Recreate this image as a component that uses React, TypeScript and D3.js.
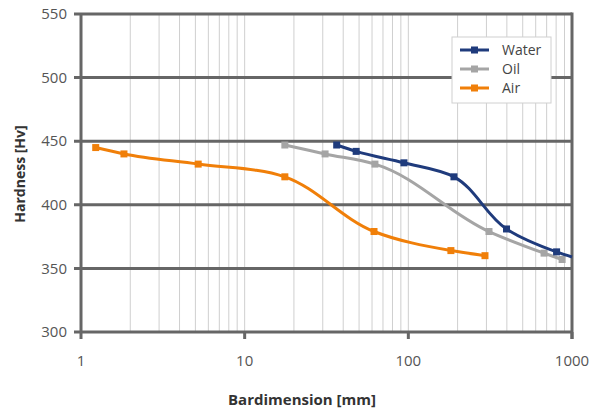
import { useMemo } from "react";
import * as d3 from "d3";

// values (log x axis)
const waterX = [36.5, 48, 94, 190, 398, 805, 1000];
const waterY = [447, 442, 433, 422, 381, 363, 359];
const oilX = [17.6, 31, 62.5, 311, 675, 870];
const oilY = [447, 440, 432, 379, 362, 357];
const airX = [1.23, 1.83, 5.2, 17.6, 61.7, 182, 294];
const airY = [445, 440, 432, 422, 379, 364, 360];

const seriesNames = ["Water", "Oil", "Air"];
const seriesColors = ["#1f3b7c", "#a5a5a5", "#f07f09"];
const yTicks = [300, 350, 400, 450, 500, 550];
const xTicks = [1, 10, 100, 1000];

const W = 596;
const H = 414;
const FONT = "'Open Sans', 'Noto Sans', sans-serif";

export default function App() {
  const x = useMemo(() => d3.scaleLog().domain([1, 1000]).range([81, 572]), []);
  const y = useMemo(() => d3.scaleLinear().domain([300, 550]).range([332, 14]), []);

  const series = [
    { name: seriesNames[0], color: seriesColors[0], xs: waterX, ys: waterY },
    { name: seriesNames[1], color: seriesColors[1], xs: oilX, ys: oilY },
    { name: seriesNames[2], color: seriesColors[2], xs: airX, ys: airY },
  ];

  const line = d3
    .line<[number, number]>()
    .x((d) => x(d[0]))
    .y((d) => y(d[1]))
    .curve(d3.curveCatmullRom.alpha(1));

  // minor vertical grid: 2..10 of each decade
  const minor: number[] = [];
  for (const dec of [1, 10, 100]) {
    for (let k = 2; k <= 9; k++) minor.push(dec * k);
    if (dec < 100) minor.push(dec * 10);
  }

  // draw order: Air first, then Oil, then Water on top
  const drawOrder = [2, 1, 0];

  const legendX = 452;
  const legendY = 37;

  return (
    <svg width={W} height={H} style={{ position: "absolute", left: 0, top: 0 }} fontFamily={FONT}>
      <rect width={W} height={H} fill="#fff" />
      {minor.map((v) => (
        <line key={v} x1={x(v)} x2={x(v)} y1={y(550)} y2={y(300)} stroke="#cfcfcf" strokeWidth={1} />
      ))}
      {yTicks.map((t) => (
        <g key={t}>
          <line x1={74} x2={x(1000)} y1={y(t)} y2={y(t)} stroke="#666" strokeWidth={3} />
          <text x={67} y={y(t)} dy="0.35em" textAnchor="end" fontSize={15} fill="#555">
            {t}
          </text>
        </g>
      ))}
      <line x1={x(1)} x2={x(1)} y1={y(550)} y2={y(300)} stroke="#666" strokeWidth={3} />
      <line x1={x(1000)} x2={x(1000)} y1={y(550) - 1.5} y2={y(300) + 7} stroke="#666" strokeWidth={3} />
      {xTicks.map((t) => (
        <g key={t}>
          <line x1={x(t)} x2={x(t)} y1={y(300)} y2={y(300) + 7} stroke="#666" strokeWidth={3} />
          <text x={x(t)} y={361} dy="0.35em" textAnchor="middle" fontSize={15} fill="#555">
            {t}
          </text>
        </g>
      ))}

      {drawOrder.map((i) => {
        const s = series[i];
        const pts = s.xs.map((v, j) => [v, s.ys[j]] as [number, number]);
        return (
          <g key={s.name}>
            <path d={line(pts) || ""} fill="none" stroke={s.color} strokeWidth={3} />
            {pts
              .filter((p) => p[0] < 1000)
              .map((p, j) => (
                <rect key={j} x={x(p[0]) - 3.5} y={y(p[1]) - 3.5} width={7} height={7} fill={s.color} />
              ))}
          </g>
        );
      })}

      <g transform={`translate(${legendX},${legendY})`}>
        <rect width={99} height={66} fill="#fff" stroke="#d0d0d0" strokeWidth={1} />
        {series.map((s, i) => (
          <g key={s.name} transform={`translate(0,${13 + i * 19})`}>
            <line x1={8} x2={37} y1={0} y2={0} stroke={s.color} strokeWidth={3} />
            <rect x={19} y={-3.5} width={7} height={7} fill={s.color} />
            <text x={50} y={0} dy="0.35em" fontSize={14} fill="#444">
              {s.name}
            </text>
          </g>
        ))}
      </g>

      <text
        transform={`translate(20,174) rotate(-90)`}
        textAnchor="middle"
        dy="0.35em"
        fontSize={14}
        fontWeight="bold"
        fill="#333"
      >
        Hardness [Hv]
      </text>
      <text x={302} y={400} dy="0.35em" textAnchor="middle" fontSize={15} fontWeight="bold" fill="#333">
        Bardimension [mm]
      </text>
    </svg>
  );
}
